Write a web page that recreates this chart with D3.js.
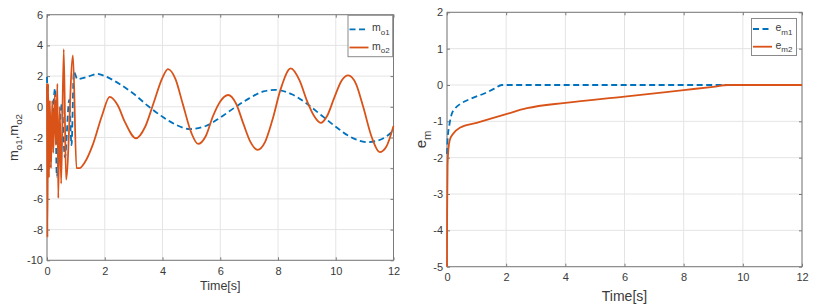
<!DOCTYPE html>
<html>
<head>
<meta charset="utf-8">
<script src="https://cdn.jsdelivr.net/npm/d3@7"></script>
<style>
body { margin: 0; background: #fff; }
svg text { font-family: "Liberation Sans", Arial, Helvetica, sans-serif; fill: #3a3a3a; }
</style>
</head>
<body>
<svg id="chart" width="823" height="307"></svg>
<script>
// ---- left panel: m_o1 / m_o2 ----
let moTime1 = [0, 0.1, 0.28, 0.34, 0.51, 0.62, 0.77, 0.85, 0.93, 1.05, 1.4, 1.75, 2.0, 2.5, 3.0, 3.5, 4.0, 4.5, 4.95, 5.5, 6.0, 6.5, 7.0, 7.5, 7.9, 8.5, 9.0, 9.5, 10.0, 10.5, 11.1, 11.6, 12]
let moValue1 = [1.95, -3.9, 1.2, -4.55, 0.15, -3.3, 0.45, -2.5, 2.3, 1.8, 1.95, 2.15, 2.0, 1.5, 0.85, 0.05, -0.65, -1.2, -1.45, -1.25, -0.7, -0.05, 0.55, 1.0, 1.1, 0.8, 0.2, -0.55, -1.3, -1.95, -2.3, -2.1, -1.55]

let moTime2 = [0, 0.015, 0.04, 0.07, 0.1, 0.14, 0.18, 0.22, 0.27, 0.31, 0.36, 0.39, 0.44, 0.49, 0.58, 0.66, 0.9, 1.02, 1.13,
    1.3, 1.6, 1.9, 2.17, 2.45, 2.7, 3.08, 3.4, 3.7, 4.0, 4.19, 4.45, 4.7, 5.0, 5.23, 5.5, 5.75, 6.0, 6.27, 6.55, 6.8, 7.05, 7.29,
    7.55, 7.8, 8.1, 8.44, 8.75, 9.0, 9.25, 9.48, 9.7, 9.95, 10.2, 10.43, 10.7, 10.95, 11.25, 11.52, 11.75, 12]
let moValue2 = [1.5, -8.5, 1.5, -4.6, 0.4, -4.0, 0.4, -3.0, 0.8, -2.5, 1.5, -5.95, 0.0, -5.0, 3.75, -4.75, 3.35, -4.0, -4.0,
    -3.65, -2.4, -0.6, 0.65, 0.1, -1.0, -2.05, -1.3, 0.3, 1.9, 2.45, 1.8, 0.2, -1.7, -2.42, -1.9, -0.6, 0.35, 0.77, 0.2, -1.1, -2.3, -2.8,
    -2.3, -0.9, 1.2, 2.5, 1.7, 0.4, -0.6, -1.05, -0.6, 0.6, 1.7, 2.05, 1.5, 0.0, -2.0, -2.95, -2.6, -1.25]

let moXTicks = [0, 2, 4, 6, 8, 10, 12]
let moYTicks = [-10, -8, -6, -4, -2, 0, 2, 4, 6]

// ---- right panel: e_m1 / e_m2 ----
let emTime1 = [0, 0.02, 0.08, 0.16, 0.28, 0.45, 0.8, 1.3, 1.6, 1.85, 12]
let emValue1 = [-1.9, -1.5, -1.1, -0.8, -0.64, -0.52, -0.38, -0.22, -0.1, 0, 0]

let emTime2 = [0, 0.005, 0.02, 0.05, 0.1, 0.2, 0.45, 1.0, 1.45, 2.0, 2.7, 4.0, 6.0, 8.0, 9.0, 9.5, 12]
let emValue2 = [-5, -3.5, -2.2, -1.75, -1.5, -1.35, -1.17, -1.04, -0.93, -0.8, -0.64, -0.49, -0.32, -0.14, -0.05, 0, 0]

let emXTicks = [0, 2, 4, 6, 8, 10, 12]
let emYTicks = [-5, -4, -3, -2, -1, 0, 1, 2]

let blue = '#0072bd'
let orange = '#d95319'

let svg = d3.select('#chart')

function richText(textSel, parts, size, subSize, shift) {
    parts.forEach((p, i) => {
        let prevSub = i > 0 && parts[i-1][1]
        let dy = p[1] ? shift : (prevSub ? -shift : 0)
        textSel.append('tspan')
            .attr('dy', dy)
            .style('font-size', (p[1] ? subSize : size) + 'px')
            .text(p[0])
    })
}

function drawPanel(cfg, idx) {
    let x = d3.scaleLinear().domain([0, 12]).range([cfg.left, cfg.right])
    let y = d3.scaleLinear().domain(cfg.yDomain).range([cfg.bottom, cfg.top])
    let g = svg.append('g')

    // grid
    g.append('g').selectAll('line').data(cfg.xTicks).enter().append('line')
        .attr('x1', d => x(d)).attr('x2', d => x(d))
        .attr('y1', cfg.top).attr('y2', cfg.bottom)
        .attr('stroke', '#e4e4e4').attr('stroke-width', 1)
    g.append('g').selectAll('line').data(cfg.yTicks).enter().append('line')
        .attr('x1', cfg.left).attr('x2', cfg.right)
        .attr('y1', d => y(d)).attr('y2', d => y(d))
        .attr('stroke', '#e4e4e4').attr('stroke-width', 1)

    // axes, ticks inside
    let xAxis = g.append('g')
        .attr('transform', 'translate(0,' + cfg.bottom + ')')
        .call(d3.axisBottom(x).tickValues(cfg.xTicks).tickSize(-3).tickPadding(cfg.xPad).tickFormat(d => String(d)))
    let yAxis = g.append('g')
        .attr('transform', 'translate(' + cfg.left + ',0)')
        .call(d3.axisLeft(y).tickValues(cfg.yTicks).tickSize(-3).tickPadding(4).tickFormat(d => String(d)))
    let xTop = g.append('g')
        .attr('transform', 'translate(0,' + cfg.top + ')')
        .call(d3.axisTop(x).tickValues(cfg.xTicks).tickSize(-3).tickFormat(''))
    let yRight = g.append('g')
        .attr('transform', 'translate(' + cfg.right + ',0)')
        .call(d3.axisRight(y).tickValues(cfg.yTicks).tickSize(-3).tickFormat(''))

    for (let a of [xAxis, yAxis, xTop, yRight]) {
        a.select('.domain').remove()
        a.selectAll('.tick line').attr('stroke', '#7a7a7a')
        a.selectAll('text').style('font-size', cfg.tickFont + 'px').attr('fill', '#3a3a3a')
    }

    g.append('rect')
        .attr('x', cfg.left).attr('y', cfg.top)
        .attr('width', cfg.right - cfg.left).attr('height', cfg.bottom - cfg.top)
        .attr('fill', 'none').attr('stroke', '#7a7a7a').attr('stroke-width', 1)

    // clip (a little loose so edge lines keep their full width) + series
    svg.append('clipPath').attr('id', 'clip' + idx)
        .append('rect')
        .attr('x', cfg.left - 2).attr('y', cfg.top - 2)
        .attr('width', cfg.right - cfg.left + 4).attr('height', cfg.bottom - cfg.top + 4)

    let line = d3.line()
        .x(d => x(d[0]))
        .y(d => y(d[1]))
        .curve(d3.curveMonotoneX)

    cfg.series.forEach(s => {
        g.append('path')
            .datum(d3.zip(s.t, s.v))
            .attr('clip-path', 'url(#clip' + idx + ')')
            .attr('d', line)
            .attr('fill', 'none')
            .attr('stroke', s.color)
            .attr('stroke-width', 1.8)
            .attr('stroke-dasharray', s.dash ? '6,3.5' : null)
            .attr('stroke-linejoin', 'round')
    })

    // axis labels
    g.append('text')
        .attr('x', cfg.xlabel.x).attr('y', cfg.xlabel.y)
        .attr('text-anchor', 'middle')
        .style('font-size', cfg.xlabel.size + 'px')
        .text('Time[s]')

    let yl = g.append('text')
        .attr('transform', 'translate(' + cfg.ylabel.x + ',' + cfg.ylabel.y + ') rotate(-90)')
        .attr('text-anchor', 'middle')
    richText(yl, cfg.ylabel.parts, cfg.ylabel.size, cfg.ylabel.size * 0.75, cfg.ylabel.size * 0.3)

    // legend
    let L = cfg.legend
    let lg = g.append('g')
    lg.append('rect')
        .attr('x', L.x).attr('y', L.y).attr('width', L.w).attr('height', L.h)
        .attr('fill', '#fff').attr('stroke', '#8a8a8a').attr('stroke-width', 1)
    cfg.series.forEach((s, i) => {
        let ry = L.rows[i]
        lg.append('line')
            .attr('x1', L.x + 1.5).attr('x2', L.x + 20.5)
            .attr('y1', ry).attr('y2', ry)
            .attr('stroke', s.color).attr('stroke-width', 1.8)
            .attr('stroke-dasharray', s.dash ? '6,3.5' : null)
        let t = lg.append('text')
            .attr('x', L.x + 24).attr('y', ry + 2)
        richText(t, s.label, 10.5, 8, 3.5)
    })
}

let panels = [
    {
        left: 47, right: 393.5, top: 14.7, bottom: 260.3,
        yDomain: [-10, 6], xTicks: moXTicks, yTicks: moYTicks,
        tickFont: 11, xPad: 7,
        series: [
            {t: moTime1, v: moValue1, color: blue, dash: true, label: [['m', false], ['o1', true]]},
            {t: moTime2, v: moValue2, color: orange, dash: false, label: [['m', false], ['o2', true]]}
        ],
        xlabel: {x: 220.3, y: 290, size: 12.5},
        ylabel: {x: 18, y: 137.5, size: 13, parts: [['m', false], ['o1', true], [',m', false], ['o2', true]]},
        legend: {x: 348, y: 15.3, w: 44.7, h: 41.4, rows: [29.3, 47.5]}
    },
    {
        left: 447, right: 802, top: 12.3, bottom: 266.7,
        yDomain: [-5, 2], xTicks: emXTicks, yTicks: emYTicks,
        tickFont: 11, xPad: 7,
        series: [
            {t: emTime1, v: emValue1, color: blue, dash: true, label: [['e', false], ['m1', true]]},
            {t: emTime2, v: emValue2, color: orange, dash: false, label: [['e', false], ['m2', true]]}
        ],
        xlabel: {x: 624.5, y: 301, size: 14},
        ylabel: {x: 426, y: 139.5, size: 15, parts: [['e', false], ['m', true]]},
        legend: {x: 751.5, y: 18.5, w: 45, h: 37, rows: [29, 46.7]}
    }
]

panels.forEach((p, i) => drawPanel(p, i))
</script>
</body>
</html>
